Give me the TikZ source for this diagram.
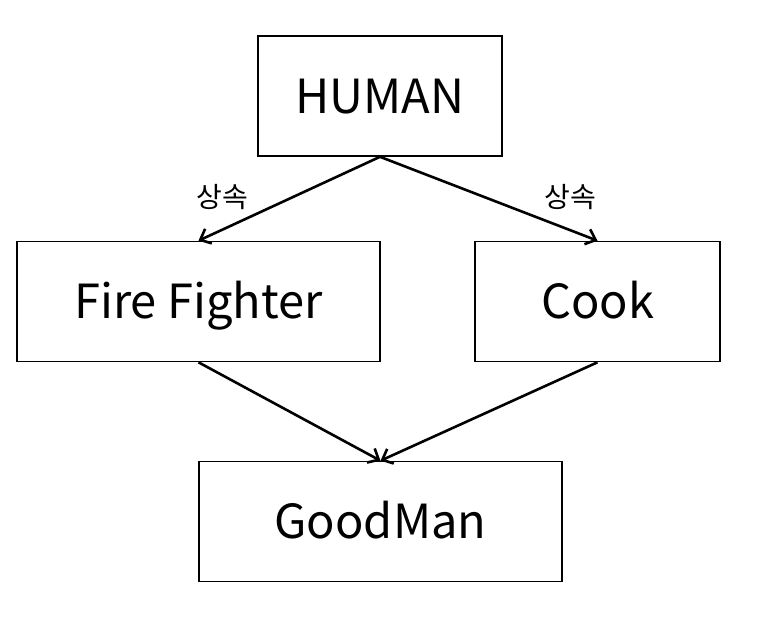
\documentclass[tikz,border=0pt]{standalone}
\usepackage{fontspec}
\setmainfont{Noto Sans CJK KR}
\usetikzlibrary{arrows.meta}
\begin{document}
\begin{tikzpicture}[x=1pt,y=-1pt,
  cls/.style={draw,line width=1.6pt,minimum height=120pt,inner sep=0pt,text height=34pt,text depth=0pt,font=\fontsize{47}{56}\selectfont},
  inh/.style={line width=2.6pt,-{Straight Barb[length=9pt,width=16pt,line width=2.6pt]}},
  lbl/.style={font=\fontsize{28}{32}\selectfont}]
\useasboundingbox (0,0) rectangle (757,638);
\node[cls,minimum width=244pt] (human) at (380,96) {HUMAN};
\node[cls,minimum width=363pt] (ff) at (198.5,301.5) {Fire Fighter};
\node[cls,minimum width=245pt] (cook) at (597.5,301.5) {Cook};
\node[cls,minimum width=363pt] (good) at (380.5,521.5) {GoodMan};
\draw[inh] (human.south) -- (ff.north);
\draw[inh] (human.south) -- (cook.north);
\draw[inh] (ff.south) -- (good.north);
\draw[inh] (cook.south) -- (good.north);
\node[lbl] (l1) at (222,197) {상속};
\node[lbl] (l2) at (570,197) {상속};
\end{tikzpicture}
\end{document}
